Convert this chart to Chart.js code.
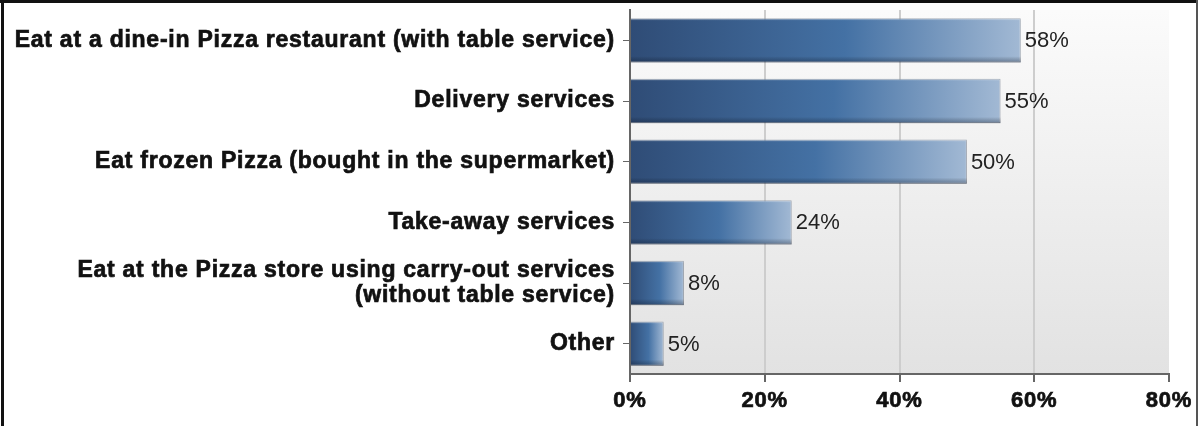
<!DOCTYPE html>
<html>
<head>
<meta charset="utf-8">
<script src="https://cdn.jsdelivr.net/npm/chart.js@4"></script>
<style>
  html, body { margin: 0; padding: 0; background: #ffffff; }
  #wrap { position: relative; width: 1199px; height: 426px; }
</style>
</head>
<body>
<div id="wrap"><canvas id="chart" width="1199" height="426"></canvas></div>
<script>
// Ways of eating pizza (share of respondents, %)
const categories = [
  'Eat at a dine-in Pizza restaurant (with table service)',
  'Delivery services',
  'Eat frozen Pizza (bought in the supermarket)',
  'Take-away services',
  ['Eat at the Pizza store using carry-out services', '(without table service)'],
  'Other'
];
const shares = [58, 55, 50, 24, 8, 5];
const axisTicks = [0, 20, 40, 60, 80];

const FONT = '"Liberation Sans", Arial, sans-serif';

// horizontal blue gradient running along each bar
function barFill(ctx) {
  const chart = ctx.chart;
  if (!chart.chartArea || ctx.raw == null) return '#4472a8';
  const xs = chart.scales.x;
  const x0 = xs.getPixelForValue(0);
  const x1 = xs.getPixelForValue(ctx.raw);
  if (!isFinite(x0) || !isFinite(x1) || x1 - x0 < 1) return '#4472a8';
  const g = chart.ctx.createLinearGradient(x0, 0, x1, 0);
  g.addColorStop(0, '#2f4c76');
  g.addColorStop(0.55, '#4471a4');
  g.addColorStop(1, '#a2b9d4');
  return g;
}

// plot background: light vertical gradient
const plotBackground = {
  id: 'plotBackground',
  beforeDraw(chart) {
    const { ctx, chartArea: a } = chart;
    const g = ctx.createLinearGradient(0, a.top, 0, a.bottom);
    g.addColorStop(0, '#fbfbfb');
    g.addColorStop(1, '#e2e2e2');
    ctx.save();
    ctx.fillStyle = g;
    ctx.fillRect(a.left, a.top, a.right - a.left, a.bottom - a.top);
    ctx.restore();
    ctx.letterSpacing = '0.75px';
  },
  beforeDatasetsDraw(chart) {
    chart.ctx.letterSpacing = '0px';
  }
};

// bevel shading on bars and the value labels beside them
const barDecor = {
  id: 'barDecor',
  afterDatasetsDraw(chart) {
    const ctx = chart.ctx;
    const meta = chart.getDatasetMeta(0);
    ctx.save();
    meta.data.forEach((bar, i) => {
      const { x, y, base, height } = bar.getProps(['x', 'y', 'base', 'height'], true);
      const top = y - height / 2, bottom = y + height / 2;
      const g = ctx.createLinearGradient(0, top, 0, bottom);
      g.addColorStop(0, 'rgba(255,255,255,0.22)');
      g.addColorStop(0.06, 'rgba(255,255,255,0)');
      g.addColorStop(0.86, 'rgba(0,0,0,0)');
      g.addColorStop(1, 'rgba(10,20,40,0.35)');
      ctx.fillStyle = g;
      ctx.fillRect(base, top, x - base, height);

      ctx.fillStyle = '#222222';
      ctx.font = '22px ' + FONT;
      ctx.textAlign = 'left';
      ctx.textBaseline = 'middle';
      ctx.fillText(shares[i] + '%', x + 4, y + 1);
    });
    ctx.restore();
  }
};

// outer frame
const frame = {
  id: 'frame',
  afterDraw(chart) {
    const ctx = chart.ctx;
    ctx.save();
    ctx.fillStyle = '#111111';
    ctx.fillRect(1, 0, 3, 426);
    ctx.fillRect(0, 0, 1198, 3);
    ctx.fillStyle = '#555555';
    ctx.fillRect(1196, 0, 2, 426);
    ctx.restore();
  }
};

new Chart(document.getElementById('chart'), {
  type: 'bar',
  data: {
    labels: categories,
    datasets: [{
      data: shares,
      backgroundColor: barFill,
      borderColor: 'rgba(70,85,110,0.55)',
      borderWidth: 1,
      borderSkipped: 'start',
      categoryPercentage: 0.73,
      barPercentage: 1
    }]
  },
  options: {
    indexAxis: 'y',
    responsive: false,
    animation: false,
    devicePixelRatio: 1,
    layout: { padding: { top: 10, right: 30, bottom: 0, left: 0 } },
    plugins: {
      legend: { display: false },
      tooltip: { enabled: false }
    },
    scales: {
      y: {
        type: 'category',
        afterFit(scale) {
          scale.width = 630;
          scale.paddingTop = 0;
          scale.paddingBottom = 0;
        },
        grid: {
          drawOnChartArea: false,
          drawTicks: true,
          offset: false,
          tickLength: 7,
          tickColor: '#666666',
          tickWidth: 1
        },
        border: { color: '#666666', width: 2 },
        ticks: {
          color: '#111111',
          padding: 8,
          textStrokeColor: '#111111',
          textStrokeWidth: 0.7,
          font: { family: FONT, size: 23, weight: 'bold', lineHeight: 1.1 }
        }
      },
      x: {
        min: axisTicks[0],
        max: axisTicks[axisTicks.length - 1],
        afterFit(scale) {
          scale.height = 52;
          scale.paddingLeft = 0;
          scale.paddingRight = 0;
        },
        afterBuildTicks(scale) { scale.ticks = axisTicks.map(v => ({ value: v })); },
        grid: {
          color: c => (c.tick && c.tick.value > axisTicks[0] && c.tick.value < axisTicks[axisTicks.length - 1]) ? '#cdcdcd' : 'rgba(0,0,0,0)',
          lineWidth: 2,
          drawTicks: true,
          tickLength: 8,
          tickColor: '#666666',
          tickWidth: 2
        },
        border: { color: '#666666', width: 2 },
        ticks: {
          color: '#111111',
          padding: 6,
          textStrokeColor: '#111111',
          textStrokeWidth: 0.7,
          font: { family: FONT, size: 22, weight: 'bold' },
          callback: v => v + '%'
        }
      }
    }
  },
  plugins: [plotBackground, barDecor, frame]
});
</script>
</body>
</html>
